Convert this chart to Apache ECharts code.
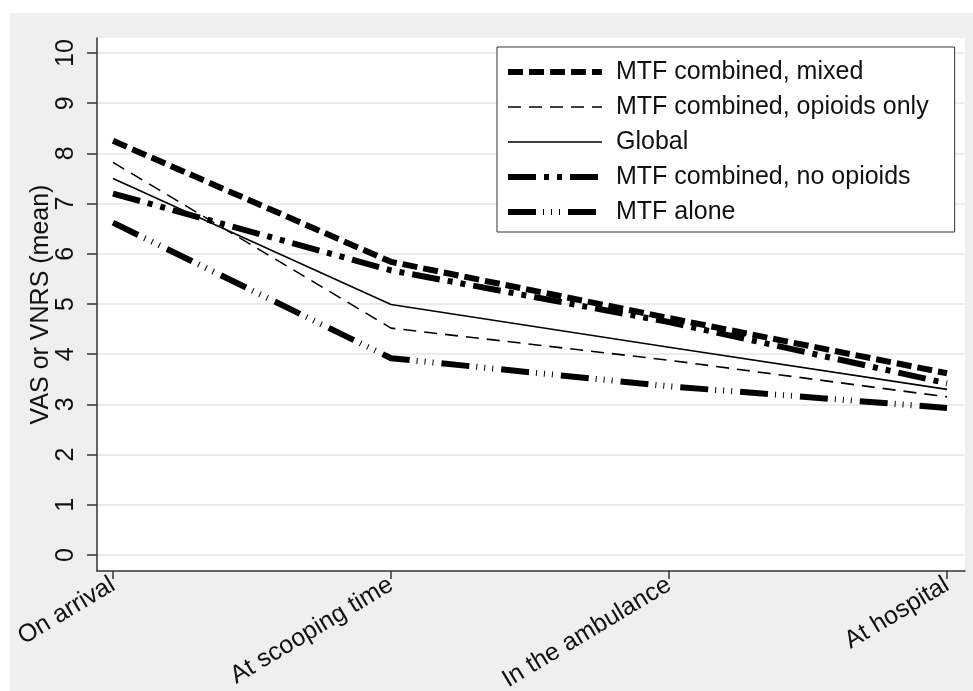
<!DOCTYPE html>
<html><head><meta charset="utf-8">
<script src="https://cdn.jsdelivr.net/npm/echarts@6/dist/echarts.min.js"></script>
<style>html,body{margin:0;padding:0;background:#fff}#c{width:973px;height:691px}</style>
</head><body><div id="c"></div>
<script>
// ---- data ----
const categories = ['On arrival', 'At scooping time', 'In the ambulance', 'At hospital'];
const mixed = [8.25, 5.84, 4.72, 3.62];
const opioidsOnly = [7.82, 4.52, 3.88, 3.15];
const globalMean = [7.50, 4.99, 4.14, 3.30];
const noOpioids = [7.20, 5.67, 4.64, 3.42];
const mtfAlone = [6.62, 3.92, 3.36, 2.93];
const yTicks = [0, 1, 2, 3, 4, 5, 6, 7, 8, 9, 10];
const xTicks = [0, 1, 2, 3];
const seriesNames = ['MTF combined, mixed', 'MTF combined, opioids only', 'Global', 'MTF combined, no opioids', 'MTF alone'];
const seriesValues = [mixed, opioidsOnly, globalMean, noOpioids, mtfAlone];

// ---- styles ----
const FONT = 'Liberation Sans, Arial, Helvetica, sans-serif';
const INK = '#111';
const FS = 25;
const lineStyles = [
  { width: 6, type: [15, 6] },
  { width: 1.6, type: [13, 8] },
  { width: 1.6, type: 'solid' },
  { width: 6, type: [28, 8, 5, 8, 5, 8] },
  { width: 6, type: [28, 7, 1, 7, 1, 7, 1, 8] }
];

const chart = echarts.init(document.getElementById('c'), null, { renderer: 'canvas' });
const series = seriesNames.map((name, i) => ({
  name: name,
  type: 'line',
  symbol: 'none',
  showSymbol: false,
  data: seriesValues[i].map((v, k) => [k, v]),
  lineStyle: Object.assign({ color: '#000', cap: 'butt', join: 'round' }, lineStyles[i]),
  itemStyle: { color: '#000' },
  emphasis: { disabled: true },
  z: 5
}));

chart.setOption({
  animation: false,
  backgroundColor: '#ffffff',
  graphic: [{
    type: 'rect', z: -100, silent: true,
    shape: { x: 10, y: 13, width: 963, height: 678 },
    style: { fill: '#efefef' }
  }],
  grid: {
    left: 97, right: 8, top: 38, bottom: 120,
    containLabel: false, outerBoundsMode: 'none',
    show: true, backgroundColor: '#ffffff', borderWidth: 0
  },
  legend: {
    orient: 'vertical',
    left: 497, top: 47,
    itemWidth: 94, itemHeight: 26, itemGap: 9,
    padding: [12, 26, 7, 8],
    backgroundColor: '#ffffff',
    borderColor: '#333', borderWidth: 1,
    lineStyle: { width: 'inherit' },
    itemStyle: { color: 'rgba(0,0,0,0)', borderWidth: 0, opacity: 0 },
    textStyle: { fontFamily: FONT, fontSize: FS, lineHeight: 26, color: INK, padding: [0, 0, 0, 9] },
    selectedMode: false,
    data: seriesNames
  },
  xAxis: {
    type: 'value',
    min: -16 / 278, max: 3 + 18 / 278,
    axisLine: { show: true, onZero: false, lineStyle: { color: '#333', width: 1.5 } },
    axisTick: { show: true, length: 8, lineStyle: { color: '#333', width: 1.5 }, customValues: xTicks },
    axisLabel: {
      customValues: xTicks,
      rotate: 31, margin: 12,
      fontFamily: FONT, fontSize: FS, color: INK,
      formatter: v => categories[Math.round(v)]
    },
    splitLine: { show: false }
  },
  yAxis: {
    type: 'value',
    min: -16 / 50.2, max: 10 + 15 / 50.2,
    name: 'VAS or VNRS (mean)',
    nameLocation: 'middle', nameRotate: 90, nameGap: 43,
    nameMoveOverlap: false,
    nameTextStyle: { fontFamily: FONT, fontSize: FS, color: INK },
    axisLine: { show: true, onZero: false, lineStyle: { color: '#333', width: 1.5 } },
    axisTick: { show: true, length: 10, lineStyle: { color: '#333', width: 1.5 }, customValues: yTicks },
    axisLabel: {
      customValues: yTicks,
      rotate: 90, margin: 18,
      fontFamily: FONT, fontSize: FS, color: INK
    },
    splitLine: { show: true, lineStyle: { color: '#e6e6e6', width: 1.5 } }
  },
  series: series
});
</script></body></html>
